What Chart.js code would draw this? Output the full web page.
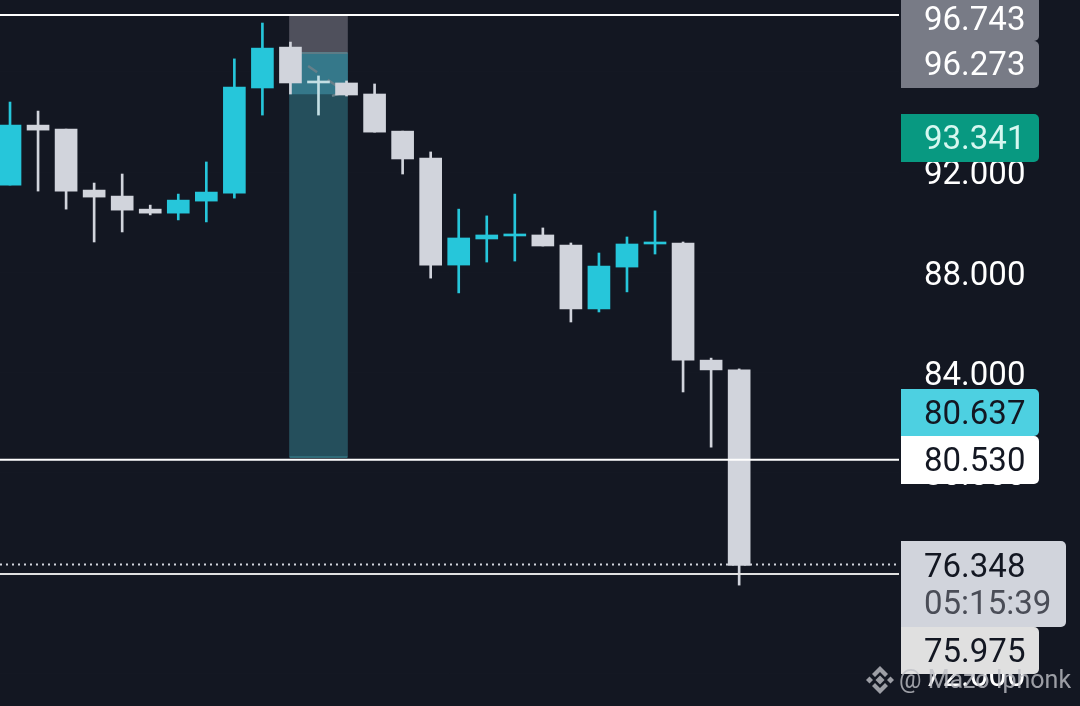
<!DOCTYPE html>
<html>
<head>
<meta charset="utf-8">
<title>Candles</title>
<script src="https://cdn.jsdelivr.net/npm/chart.js@4"></script>
<style>
  html, body { margin: 0; padding: 0; background: #131722; overflow: hidden; }
  canvas { display: block; }
</style>
</head>
<body>
<canvas id="chart" width="1080" height="706"></canvas>
<script>
// values
var opens  = [91.48, 93.87, 93.71, 91.28, 91.04, 90.52, 90.36, 90.84, 91.16, 95.35, 96.98, 95.63, 95.55, 95.11, 93.63, 92.56, 88.29, 89.33, 89.45, 89.49, 89.09, 86.54, 88.21, 89.13, 89.17, 84.50, 84.11];
var highs  = [94.79, 94.43, 93.71, 91.56, 91.92, 90.68, 91.12, 92.40, 96.51, 97.94, 97.18, 95.83, 95.63, 95.51, 93.63, 92.80, 90.52, 90.25, 91.12, 89.77, 89.17, 88.77, 89.41, 90.45, 89.21, 84.58, 84.15];
var lows   = [91.48, 91.24, 90.52, 89.21, 89.61, 90.29, 90.09, 90.01, 90.96, 94.27, 95.11, 94.27, 95.03, 93.59, 91.92, 87.77, 87.18, 88.41, 88.45, 89.05, 86.02, 86.42, 87.22, 88.73, 83.23, 81.03, 75.53];
var closes = [93.87, 93.67, 91.24, 91.00, 90.48, 90.36, 90.88, 91.20, 95.39, 96.94, 95.55, 95.55, 95.07, 93.59, 92.52, 88.29, 89.37, 89.49, 89.53, 89.05, 86.54, 88.25, 89.13, 89.21, 84.50, 84.11, 76.31];

var priceTicks = [72, 76, 80, 84, 88, 92, 96];

// position tool: zones as [low, high]
var stopZone = [96.743, 98.26];
var targetZone = [80.637, 96.743];
var entryZone = [95.11, 96.743];
var boxCandle = 11;

// little dashed path inside the tool
var pathX = [10.63, 11.95, 11.34];
var pathY = [96.23, 95.19, 94.99];

var topLine = 98.26;
var whiteLine = 80.53;
var lowLine = 75.975;
var lastPrice = 76.348;

var tagValues = [96.743, 96.273, 93.341, 80.637, 80.53, 76.348, 75.975];
var countdown = "05:15:39";
var watermark = "@ Mazo Iphonk";

var UP = "#26c6da";
var DOWN = "#d1d4dc";
var XMIN = -0.357, XMAX = 31.7;

var candleColors = closes.map(function (c, i) {
  if (i == boxCandle) return "#c4dfe4"; // sits under the tool overlay
  return c > opens[i] ? UP : DOWN;
});

function zoneBar(zone, color, order) {
  return {
    type: "bar", data: [{ x: boxCandle, y: zone }], backgroundColor: color,
    barThickness: 58, grouped: false, order: order
  };
}

function hLine(value, color, width, dash, order) {
  return {
    type: "line", data: [{ x: XMIN, y: value }, { x: XMAX, y: value }],
    borderColor: color, borderWidth: width, borderDash: dash || [], pointRadius: 0, order: order
  };
}

function boxEdge(value, color) {
  return {
    type: "line", data: [{ x: boxCandle - 1.03, y: value }, { x: boxCandle + 1.03, y: value }],
    borderColor: color, borderWidth: 2, pointRadius: 0, order: 17
  };
}

var datasets = [
  zoneBar(stopZone, "#4f505c", 20),
  zoneBar(targetZone, "#254f5c", 20),
  zoneBar(entryZone, "#35788a", 19),
  boxEdge(stopZone[1], "#6f717b"),
  boxEdge(targetZone[1], "#5c7c87"),
  boxEdge(targetZone[0], "#2f6b78"),
  {
    type: "line", data: pathX.map(function (x, i) { return { x: x, y: pathY[i] }; }),
    borderColor: "#66808a", borderWidth: 2.5, borderDash: [11, 13], pointRadius: 0, order: 16
  },
  hLine(lastPrice, DOWN, 2, [2, 4], 15),
  {
    type: "bar", barThickness: 2, grouped: false, order: 11,
    data: highs.map(function (h, i) { return { x: i, y: [lows[i], h] }; }),
    backgroundColor: candleColors
  },
  {
    type: "bar", barThickness: 22, grouped: false, order: 10,
    data: opens.map(function (o, i) { return { x: i, y: [Math.min(o, closes[i]), Math.max(o, closes[i])] }; }),
    backgroundColor: candleColors
  },
  hLine(topLine, "#ffffff", 2, null, 5),
  hLine(whiteLine, "#ffffff", 2, null, 5),
  hLine(lowLine, "#e0e0e0", 2, null, 5)
];

// price tags on the axis, they get pushed around so they don't overlap
var tagStyle = [
  { top: -6, bottom: 41, right: 1039, fill: "#787b86", text: "#ffffff", y: 19 },
  { top: 41, bottom: 88, right: 1039, fill: "#787b86", text: "#ffffff", y: 64 },
  { top: 114, bottom: 162, right: 1039, fill: "#089981", text: "#d6f7f0", y: 138 },
  { top: 389, bottom: 436, right: 1039, fill: "#4dd0e1", text: "#131722", y: 413 },
  { top: 436, bottom: 484, right: 1039, fill: "#ffffff", text: "#131722", y: 460 },
  { top: 541, bottom: 627, right: 1066, fill: "#d1d4dc", text: "#131722", y: 566 },
  { top: 627, bottom: 674, right: 1039, fill: "#e0e0e0", text: "#131722", y: 651 }
];

function poly(ctx, cx, cy, pts) {
  ctx.beginPath();
  pts.forEach(function (p, i) {
    if (i == 0) ctx.moveTo(cx + p[0], cy + p[1]);
    else ctx.lineTo(cx + p[0], cy + p[1]);
  });
  ctx.closePath();
  ctx.fill();
}

var tagsPlugin = {
  id: "tags",
  afterDraw: function (chart) {
    var ctx = chart.ctx;
    ctx.save();
    ctx.font = "33px Roboto";
    ctx.textBaseline = "middle";
    ctx.textAlign = "left";
    tagValues.forEach(function (v, i) {
      var t = tagStyle[i];
      ctx.fillStyle = t.fill;
      ctx.beginPath();
      ctx.roundRect(901, t.top, t.right - 901, t.bottom - t.top, [0, 5, 5, 0]);
      ctx.fill();
      ctx.fillStyle = t.text;
      ctx.fillText(v.toFixed(3), 924, t.y + 3);
    });
    ctx.fillStyle = "#4a4d57";
    ctx.fillText(countdown, 924, 606);

    // watermark, binance style diamond
    ctx.globalAlpha = 0.8;
    ctx.fillStyle = "#bfc1c7";
    var cx = 880, cy = 680;
    poly(ctx, cx, cy, [[0, -14], [8, -6], [5, -3], [0, -8], [-5, -3], [-8, -6]]);
    poly(ctx, cx, cy, [[0, 14], [8, 6], [5, 3], [0, 8], [-5, 3], [-8, 6]]);
    poly(ctx, cx, cy, [[-14, 0], [-10.5, -3.5], [-7, 0], [-10.5, 3.5]]);
    poly(ctx, cx, cy, [[14, 0], [10.5, -3.5], [7, 0], [10.5, 3.5]]);
    poly(ctx, cx, cy, [[0, -4.5], [4.5, 0], [0, 4.5], [-4.5, 0]]);
    ctx.font = "25px Roboto";
    ctx.fillText(watermark, 899, 682);
    ctx.restore();
  }
};

new Chart(document.getElementById("chart"), {
  data: { datasets: datasets },
  plugins: [tagsPlugin],
  options: {
    responsive: false,
    animation: false,
    layout: { padding: 0, autoPadding: false },
    plugins: { legend: { display: false }, tooltip: { enabled: false }, title: { display: false } },
    scales: {
      // offset has to be off or the bar defaults pad the x scale
      x: { type: "linear", display: false, offset: false, min: XMIN, max: XMAX },
      y: {
        position: "right",
        min: 70.71,
        max: 98.858,
        afterFit: function (s) {
          s.width = 181;
          // tick padding otherwise eats into the plot height
          s.paddingTop = 0;
          s.paddingBottom = 0;
        },
        afterBuildTicks: function (s) { s.ticks = priceTicks.map(function (v) { return { value: v }; }); },
        border: { display: false },
        grid: { color: "#141823", drawTicks: false },
        ticks: {
          color: "#ffffff",
          padding: 25,
          labelOffset: 4,
          autoSkip: false,
          font: { family: "Roboto", size: 33 },
          callback: function (v) { return v.toFixed(3); }
        }
      }
    }
  }
});
</script>
</body>
</html>
